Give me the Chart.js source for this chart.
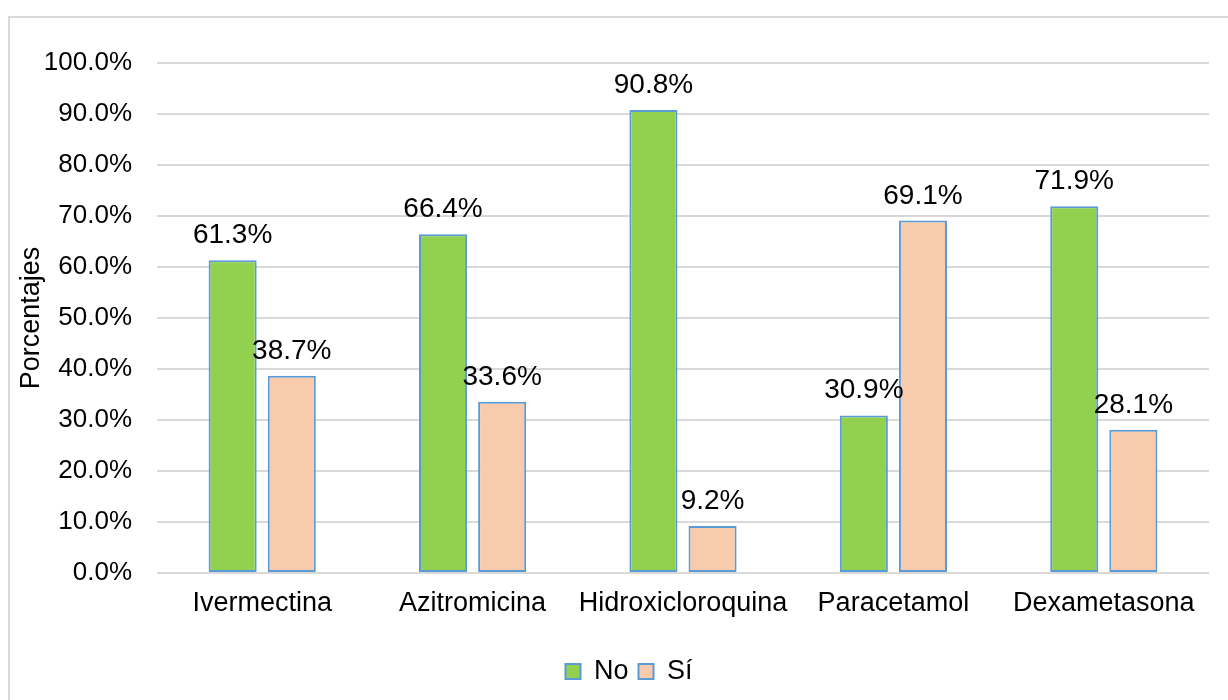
<!DOCTYPE html>
<html>
<head>
<meta charset="utf-8">
<script src="https://cdn.jsdelivr.net/npm/chart.js@4"></script>
<style>
  html, body { margin: 0; padding: 0; background: #ffffff; overflow: hidden; }
  #frame {
    position: absolute; left: 8px; top: 16px; width: 1240px; height: 700px;
    border-left: 2px solid #D9D9D9; border-top: 2px solid #D9D9D9; box-sizing: border-box;
  }
  #wrap { position: absolute; left: 0; top: 0; width: 1228px; height: 700px; }
</style>
</head>
<body>
<div id="frame"></div>
<div id="wrap"><canvas id="chart" width="1228" height="700"></canvas></div>
<script>
// Medicamentos y porcentaje de respuestas "No" / "Sí"
const categories = ['Ivermectina', 'Azitromicina', 'Hidroxicloroquina', 'Paracetamol', 'Dexametasona'];
const valuesNo = [61.3, 66.4, 90.8, 30.9, 71.9];
const valuesSi = [38.7, 33.6, 9.2, 69.1, 28.1];
const seriesNames = ['No', 'Sí'];
const yAxisTitle = 'Porcentajes';

const FONT = "'Liberation Sans', Arial, sans-serif";
const TEXT = '#000000';
const EDGE = '#5B9BD5';

// Etiquetas de valor encima de cada barra
const valueLabels = {
  id: 'valueLabels',
  afterDatasetsDraw(chart) {
    const ctx = chart.ctx;
    ctx.save();
    ctx.font = '28px ' + FONT;
    ctx.fillStyle = TEXT;
    ctx.textAlign = 'center';
    ctx.textBaseline = 'alphabetic';
    chart.data.datasets.forEach((ds, i) => {
      chart.getDatasetMeta(i).data.forEach((bar, j) => {
        ctx.fillText(ds.data[j].toFixed(1) + '%', bar.x, bar.y - 17);
      });
    });
    ctx.restore();
  }
};

// Desplaza la leyenda para centrarla bajo el área de trazado
const legendShift = {
  id: 'legendShift',
  afterLayout(chart) {
    if (chart.legend) {
      chart.legend.left += 17;
      chart.legend.right += 17;
    }
  }
};

new Chart(document.getElementById('chart'), {
  type: 'bar',
  data: {
    labels: categories,
    datasets: [
      { label: seriesNames[0], data: valuesNo, backgroundColor: '#92D050', borderColor: EDGE, borderWidth: 2, borderSkipped: false },
      { label: seriesNames[1], data: valuesSi, backgroundColor: '#F8CBAD', borderColor: EDGE, borderWidth: 2, borderSkipped: false }
    ]
  },
  options: {
    responsive: false,
    animation: false,
    devicePixelRatio: 1,
    categoryPercentage: 0.562,
    barPercentage: 0.813,
    layout: { padding: { left: 15, right: 19, top: 63, bottom: 5 } },
    plugins: {
      tooltip: { enabled: false },
      legend: {
        position: 'bottom',
        labels: {
          font: { family: FONT, size: 27 },
          color: TEXT,
          boxWidth: 15,
          boxHeight: 15,
          padding: 10,
          generateLabels(chart) {
            return chart.data.datasets.map((ds, i) => ({
              text: ds.label,
              fillStyle: ds.backgroundColor,
              strokeStyle: EDGE,
              lineWidth: 2,
              fontColor: TEXT,
              datasetIndex: i
            }));
          }
        }
      }
    },
    scales: {
      x: {
        grid: { display: false, drawTicks: false },
        border: { display: false },
        ticks: { font: { family: FONT, size: 27 }, color: TEXT, padding: 14, maxRotation: 0, autoSkip: false },
        afterFit(scale) { scale.height = 75; }
      },
      y: {
        min: 0,
        max: 100,
        ticks: {
          stepSize: 10,
          padding: 25,
          font: { family: FONT, size: 26 },
          color: TEXT,
          callback: (v) => v.toFixed(1) + '%'
        },
        grid: { color: '#D9D9D9', lineWidth: 2, drawTicks: false },
        border: { display: false },
        title: {
          display: true,
          text: yAxisTitle,
          font: { family: FONT, size: 27 },
          color: TEXT,
          padding: { top: 0, bottom: 0 }
        },
        afterFit(scale) { scale.width = 142; }
      }
    }
  },
  plugins: [valueLabels, legendShift]
});
</script>
</body>
</html>
